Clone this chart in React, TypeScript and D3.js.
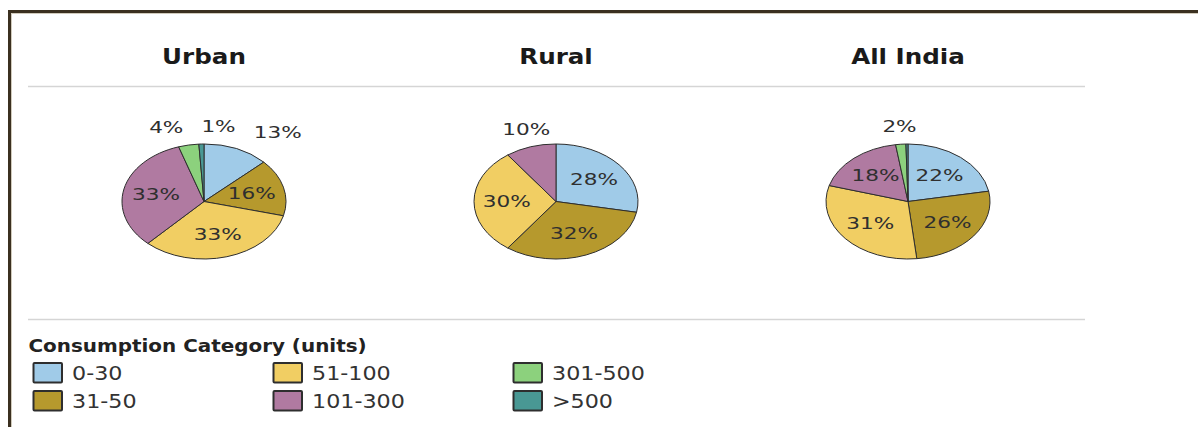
import React from 'react';
import * as d3 from 'd3';

const categories = ['0-30', '31-50', '51-100', '101-300', '301-500', '>500'];
const colors = ['#A0CBE8', '#B6992D', '#F1CE63', '#B07AA1', '#8CD17D', '#499894'];
const regions = ['Urban', 'Rural', 'All India'];
const urbanValues = [13, 16, 33, 33, 4, 1];
const ruralValues = [28, 32, 30, 10, 0, 0];
const allIndiaValues = [22, 26, 31, 18, 2, 0.4];
const legendTitle = 'Consumption Category (units)';

const seriesByRegion = [urbanValues, ruralValues, allIndiaValues];

const W = 1198;
const H = 427;
const FONT = '"DejaVu Sans", Verdana, sans-serif';

type Label = { text: string; x: number; y: number; outside: boolean; w: number };

function layoutLabels(values: number[], cx: number, cy: number, rx: number, ry: number, fs: number, sx: number): Label[] {
  const arcs = d3.pie<number>().sort(null).value((d) => d)(values);
  const labels: Label[] = [];
  arcs.forEach((a, i) => {
    const v = values[i];
    const r = Math.round(v);
    if (r <= 0) return;
    const text = `${r}%`;
    const mid = (a.startAngle + a.endAngle) / 2;
    const s = Math.sin(mid);
    const c = Math.cos(mid);
    const digits = String(r).length;
    const w = (digits * 0.636 + 0.95) * fs * sx;
    if (v >= 15) {
      labels.push({ text, x: cx + s * rx * 0.6, y: cy - c * ry * 0.6, outside: false, w });
    } else {
      labels.push({ text, x: cx + s * (rx + 14), y: cy - c * (ry + 18), outside: true, w });
    }
  });
  const out = labels.filter((l) => l.outside).sort((a, b) => a.x - b.x);
  const pad = 18;
  for (let it = 0; it < 100; it++) {
    let moved = false;
    for (let k = 1; k < out.length; k++) {
      const a = out[k - 1];
      const b = out[k];
      const need = (a.w + b.w) / 2 + pad;
      const gap = b.x - a.x;
      if (gap < need - 0.01 && Math.abs(a.y - b.y) < 18) {
        const d = (need - gap) / 2;
        a.x -= d * 0.7;
        b.x += d * 1.3;
        moved = true;
      }
    }
    if (!moved) break;
  }
  return labels;
}

export default function App() {
  const colX0 = 28;
  const colW = 352;
  const cy = 201.5;
  const ry = 57.5;
  const rx = 82;
  const labelFs = 16;
  const labelSx = 1.35;

  const arcGen = d3.arc<d3.PieArcDatum<number>>().innerRadius(0).outerRadius(ry);
  const pieGen = d3.pie<number>().sort(null).value((d) => d);

  const legendCols = [33.5, 273.5, 513.5];

  return (
    <svg
      width={W}
      height={H}
      style={{ position: 'absolute', left: 0, top: 0, background: '#fff' }}
      fontFamily={FONT}
    >
      <rect x={0} y={0} width={W} height={H} fill="#fff" />
      {/* frame */}
      <path d={`M9.5,${H} V11.5 H${W}`} fill="none" stroke="#3b3020" strokeWidth={3} />
      <path d={`M11.5,${H} V13.5 H${W}`} fill="none" stroke="#b3a88f" strokeWidth={1} opacity={0.6} />

      {/* separators */}
      <line x1={28} x2={1085} y1={86.5} y2={86.5} stroke="#d5d5d5" strokeWidth={1.5} />
      <line x1={28} x2={1085} y1={319.5} y2={319.5} stroke="#d5d5d5" strokeWidth={1.5} />

      {regions.map((name, ri) => {
        const cx = colX0 + colW * (ri + 0.5);
        const values = seriesByRegion[ri];
        const arcs = pieGen(values);
        const labels = layoutLabels(values, cx, cy, rx, ry, labelFs, labelSx);
        return (
          <g key={name}>
            <text
              transform={`translate(${cx},64) scale(1.2,1)`}
              textAnchor="middle"
              fontWeight="bold"
              fontSize={20.5}
              fill="#1a1a1a"
            >
              {name}
            </text>
            <g transform={`translate(${cx},${cy}) scale(${rx / ry},1)`}>
              {arcs.map((a, i) =>
                a.value > 0 ? (
                  <path
                    key={categories[i]}
                    d={arcGen(a) || ''}
                    fill={colors[i]}
                    stroke="#2e2e2e"
                    strokeWidth={1}
                    vectorEffect="non-scaling-stroke"
                  />
                ) : null
              )}
            </g>
            {labels.map((l, i) => (
              <text
                key={i}
                transform={`translate(${l.x},${l.y}) scale(${labelSx},1)`}
                textAnchor="middle"
                dy="0.36em"
                fontSize={labelFs}
                fill="#2f2f2f"
              >
                {l.text}
              </text>
            ))}
          </g>
        );
      })}

      {/* legend */}
      <text
        transform="translate(28.5,352) scale(1.12,1)"
        fontWeight="bold"
        fontSize={17.8}
        fill="#222"
      >
        {legendTitle}
      </text>
      {categories.map((cat, i) => {
        const col = Math.floor(i / 2);
        const row = i % 2;
        const x = legendCols[col];
        const y = 363 + row * 28;
        return (
          <g key={cat}>
            <rect x={x} y={y} width={28.5} height={19.5} fill={colors[i]} stroke="#2e2e2e" strokeWidth={2} rx={1} />
            <text
              transform={`translate(${x + 38.5},${y + 17.2}) scale(1.14,1)`}
              fontSize={19.5}
              fill="#333"
            >
              {cat}
            </text>
          </g>
        );
      })}
    </svg>
  );
}
